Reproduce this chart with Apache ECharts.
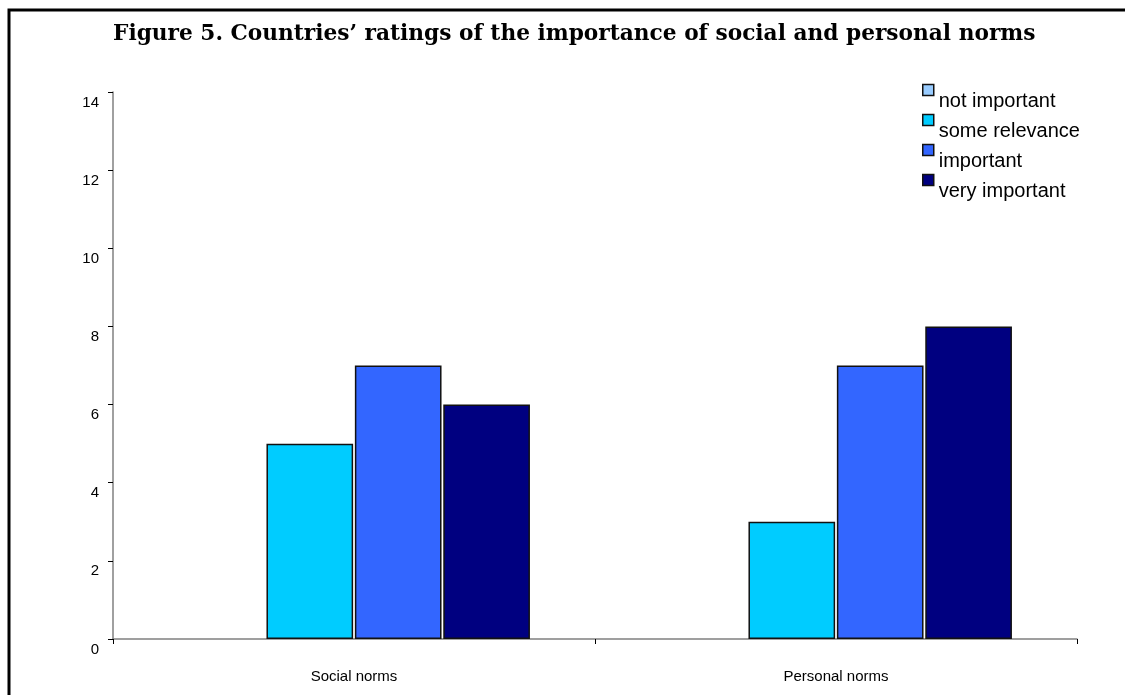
<!DOCTYPE html>
<html>
<head>
<meta charset="utf-8">
<script src="https://cdn.jsdelivr.net/npm/echarts@6/dist/echarts.min.js"></script>
<style>
  html, body { margin: 0; padding: 0; background: #fff; }
  #chart { width: 1125px; height: 695px; }
</style>
</head>
<body>
<div id="chart"></div>
<script>
// Norm types on the x axis
const categories = ['Social norms', 'Personal norms'];
// Rating levels (one bar series each)
const ratingLevels = ['not important', 'some relevance', 'important', 'very important'];
// Number of countries giving each rating
const notImportant = [0, 0];
const someRelevance = [5, 3];
const important = [7, 7];
const veryImportant = [6, 8];
const yTicks = [0, 2, 4, 6, 8, 10, 12, 14];

const levelColors = ['#99CCFF', '#00CCFF', '#3366FF', '#000080'];
const levelValues = [notImportant, someRelevance, important, veryImportant];

const chart = echarts.init(document.getElementById('chart'), null, { renderer: 'canvas' });

const series = ratingLevels.map((name, i) => ({
  name: name,
  type: 'bar',
  data: levelValues[i],
  barGap: '2%',
  barCategoryGap: '27%',
  itemStyle: {
    color: levelColors[i],
    borderColor: '#111',
    borderWidth: levelValues[i].every(v => v === 0) ? 0 : 1.5
  },
  emphasis: { disabled: true }
}));

chart.setOption({
  animation: false,
  backgroundColor: '#fff',
  title: {
    text: 'Figure 5. Countries\u2019 ratings of the importance of social and personal norms',
    left: 108,
    top: 18,
    textStyle: {
      fontFamily: 'DejaVu Serif',
      fontWeight: 'bold',
      fontSize: 21.7,
      color: '#000'
    }
  },
  legend: {
    orient: 'vertical',
    left: 922,
    top: 67,
    itemWidth: 11,
    itemHeight: 11,
    itemGap: -16,
    padding: 0,
    icon: 'rect',
    selectedMode: false,
    data: ratingLevels,
    formatter: name => '\n' + name,
    itemStyle: { borderColor: '#111', borderWidth: 1.5 },
    textStyle: {
      fontFamily: 'Liberation Sans',
      fontSize: 20,
      lineHeight: 23,
      color: '#000'
    }
  },
  grid: { left: 113, right: 48, top: 92, bottom: 56, containLabel: false },
  xAxis: {
    type: 'category',
    data: categories,
    axisLine: { lineStyle: { color: '#808080', width: 1.5 } },
    axisTick: { show: true, length: 5, lineStyle: { color: '#000' } },
    axisLabel: {
      margin: 30,
      fontFamily: 'Liberation Sans',
      fontSize: 15,
      color: '#000'
    },
    splitLine: { show: false }
  },
  yAxis: {
    type: 'value',
    min: yTicks[0],
    max: yTicks[yTicks.length - 1],
    interval: 2,
    axisLine: { show: true, lineStyle: { color: '#808080', width: 1.5 } },
    axisTick: { show: true, length: 5, lineStyle: { color: '#000' } },
    axisLabel: {
      margin: 14,
      fontFamily: 'Liberation Sans',
      fontSize: 15,
      color: '#000',
      verticalAlign: 'top',
      padding: [3, 0, 0, 0]
    },
    splitLine: { show: false }
  },
  series: series,
  graphic: [{
    type: 'rect',
    shape: { x: 9, y: 10, width: 1300, height: 900 },
    style: { fill: 'none', stroke: '#000', lineWidth: 3 },
    silent: true,
    z: 100
  }]
});
</script>
</body>
</html>
